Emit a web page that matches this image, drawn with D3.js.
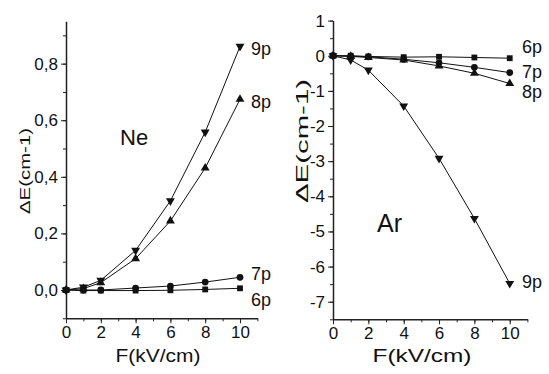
<!DOCTYPE html>
<html>
<head>
<meta charset="utf-8">
<script src="https://cdn.jsdelivr.net/npm/d3@7"></script>
<style>
  body { margin: 0; background: #fff; }
  svg { display: block; font-family: "Liberation Sans", Arial, sans-serif; }
  .axis path, .axis line { stroke: #222; }
  .axis text { font-size: 17px; fill: #111; font-family: "Liberation Sans", Arial, sans-serif; }
</style>
</head>
<body>
<div id="chart"></div>
<script>
// field strength F (kV/cm)
const fields = [0, 1, 2, 4, 6, 8, 10];

// Ne shifts, cm-1
const ne6p = [0, -0.002, -0.002, -0.002, -0.001, 0.002, 0.006];
const ne7p = [0, 0.0, 0.0, 0.007, 0.014, 0.028, 0.045];
const ne8p = [0, 0.005, 0.026, 0.111, 0.244, 0.431, 0.674];
const ne9p = [0, 0.01, 0.034, 0.14, 0.315, 0.558, 0.861];

// Ar shifts, cm-1
const ar6p = [0, 0, -0.02, -0.04, -0.03, -0.05, -0.07];
const ar7p = [0, -0.01, -0.03, -0.1, -0.2, -0.33, -0.48];
const ar8p = [0, -0.02, -0.05, -0.12, -0.29, -0.5, -0.79];
const ar9p = [0, -0.12, -0.41, -1.43, -2.92, -4.63, -6.48];

const xTicks = [0, 2, 4, 6, 8, 10];
const neYTicks = [0, 0.2, 0.4, 0.6, 0.8];
const arYTicks = [1, 0, -1, -2, -3, -4, -5, -6, -7];

const W = 549, H = 374;
const svg = d3.select('#chart').append('svg').attr('width', W).attr('height', H);

const symbolFor = {
  '6p': d3.symbolSquare,
  '7p': d3.symbolCircle,
  '8p': d3.symbolTriangle,
  '9p': d3.symbolTriangle
};

function drawPanel(opt) {
  const x = d3.scaleLinear().domain([0, 11]).range(opt.xr);
  const y = d3.scaleLinear().domain(opt.yd).range(opt.yr);
  const g = svg.append('g');

  // minor ticks
  g.append('g').attr('class', 'axis').attr('transform', `translate(0,${opt.yr[0]})`)
    .call(d3.axisBottom(x).tickValues(d3.range(0, 11.01, 1)).tickSize(3).tickFormat(''))
    .call(a => a.select('.domain').remove());
  g.append('g').attr('class', 'axis').attr('transform', `translate(${opt.xr[0]},0)`)
    .call(d3.axisLeft(y).tickValues(opt.minor).tickSize(3).tickFormat(''))
    .call(a => a.select('.domain').remove());

  // major ticks + labels
  g.append('g').attr('class', 'axis').attr('transform', `translate(0,${opt.yr[0]})`)
    .call(d3.axisBottom(x).tickValues(xTicks).tickSize(5).tickSizeOuter(0).tickPadding(3))
    .call(a => a.select('.domain').attr('stroke-width', 1.5));
  g.append('g').attr('class', 'axis').attr('transform', `translate(${opt.xr[0]},0)`)
    .call(d3.axisLeft(y).tickValues(opt.yTicks).tickSize(5).tickSizeOuter(0).tickPadding(3).tickFormat(opt.fmt))
    .call(a => a.select('.domain').attr('stroke-width', 1.5));

  const line = d3.line().x((d, i) => x(fields[i])).y(d => y(d));

  opt.series.forEach(s => {
    g.append('path').datum(s.values).attr('d', line)
      .attr('fill', 'none').attr('stroke', '#111').attr('stroke-width', 1);
    g.selectAll(null).data(s.values).enter().append('path')
      .attr('d', d3.symbol().type(symbolFor[s.name]).size(s.name === '7p' ? 36 : 34))
      .attr('transform', (d, i) => `translate(${x(fields[i])},${y(d)})` + (s.name === '9p' ? ' rotate(180)' : ''))
      .attr('fill', '#111');
    g.append('text').attr('x', opt.labelX).attr('y', s.labelY)
      .attr('font-size', 18).attr('fill', '#111').text(s.name);
  });

  // axis titles
  g.append('text').attr('x', opt.xt[0]).attr('y', opt.xt[1]).attr('text-anchor', 'middle')
    .attr('font-size', 19).attr('textLength', opt.xt[2]).attr('lengthAdjust', 'spacingAndGlyphs')
    .attr('fill', '#111').text('F(kV/cm)');
  g.append('text').attr('transform', `translate(${opt.yt[0]},${opt.yt[1]}) rotate(-90)`)
    .attr('text-anchor', 'middle')
    .attr('font-size', opt.yt[3]).attr('textLength', opt.yt[2]).attr('lengthAdjust', 'spacingAndGlyphs')
    .attr('fill', '#111').text('ΔE(cm-1)');

  g.append('text').attr('x', opt.tag[0]).attr('y', opt.tag[1]).attr('font-size', opt.tag[3])
    .attr('fill', '#111').text(opt.tag[2]);
}

const commaFmt = d => d3.format('.1f')(d).replace('.', ',');
const plainFmt = d => String(d);

drawPanel({
  xr: [66, 257.4], yd: [-0.1, 0.95], yr: [318.3, 21.2],
  yTicks: neYTicks, minor: d3.range(-0.1, 0.951, 0.1), fmt: commaFmt,
  labelX: 251, xt: [158, 362, 85], yt: [30, 171, 86, 15],
  tag: [120, 145, 'Ne', 22],
  series: [
    { name: '9p', values: ne9p, labelY: 55 },
    { name: '8p', values: ne8p, labelY: 108 },
    { name: '7p', values: ne7p, labelY: 280 },
    { name: '6p', values: ne6p, labelY: 306 }
  ]
});

drawPanel({
  xr: [333, 527.4], yd: [-7.5, 1], yr: [319.3, 20.6],
  yTicks: arYTicks, minor: d3.range(-7.5, 1.01, 0.5), fmt: plainFmt,
  labelX: 522, xt: [422, 362, 99], yt: [308, 141, 124, 17],
  tag: [377, 232, 'Ar', 25],
  series: [
    { name: '6p', values: ar6p, labelY: 53 },
    { name: '7p', values: ar7p, labelY: 78 },
    { name: '8p', values: ar8p, labelY: 98 },
    { name: '9p', values: ar9p, labelY: 288 }
  ]
});
</script>
</body>
</html>
